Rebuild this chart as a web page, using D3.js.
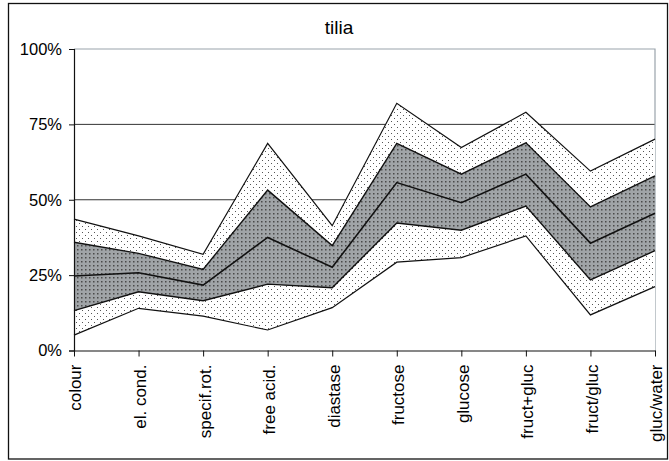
<!DOCTYPE html>
<html><head><meta charset="utf-8">
<script src="https://cdn.jsdelivr.net/npm/d3@7"></script>
<style>body{margin:0;background:#fff}svg{display:block}text{font-family:"Liberation Sans",Arial,sans-serif;fill:#000}</style>
</head><body><svg id="c" width="669" height="461"></svg>
<script>
const title = "tilia";
const categories = ["colour","el. cond.","specif.rot.","free acid.","diastase","fructose","glucose","fruct+gluc","fruct/gluc","gluc/water"];
const minVals    = [5.1, 14.0, 11.4,  6.8, 14.2, 29.3, 30.8, 38.0, 11.8, 21.2];
const lowerVals  = [13.2, 19.5, 16.5, 22.0, 20.8, 42.3, 39.9, 47.9, 23.4, 33.1];
const medianVals = [24.7, 25.8, 21.7, 37.5, 27.6, 55.7, 49.0, 58.5, 35.6, 45.5];
const upperVals  = [35.9, 32.2, 26.9, 53.2, 34.8, 68.7, 58.5, 68.9, 47.6, 57.9];
const maxVals    = [43.6, 38.0, 31.9, 68.7, 41.4, 82.0, 67.3, 79.0, 59.5, 70.1];
const yTicks = [0, 25, 50, 75, 100];

const svg = d3.select("#c");
const L = 74, R = 655, T = 49, B = 350.5;
const x = d3.scalePoint().domain(categories).range([L, R]);
const y = d3.scaleLinear().domain([0, 100]).range([B, T]);

const defs = svg.append("defs");
const pl = defs.append("pattern").attr("id","light").attr("patternUnits","userSpaceOnUse").attr("width",6).attr("height",6);
pl.append("rect").attr("width",6).attr("height",6).attr("fill","#fff");
pl.append("rect").attr("x",1).attr("y",1).attr("width",1).attr("height",1).attr("fill","#555");
pl.append("rect").attr("x",4).attr("y",4).attr("width",1).attr("height",1).attr("fill","#555");
const pd = defs.append("pattern").attr("id","dark").attr("patternUnits","userSpaceOnUse").attr("width",4).attr("height",4);
pd.append("rect").attr("width",4).attr("height",4).attr("fill","#a0a4a7");
pd.append("rect").attr("x",1).attr("y",1).attr("width",1.5).attr("height",1.5).attr("fill","#4a4a4a");

// outer frame
svg.append("rect").attr("x",8.5).attr("y",3.5).attr("width",659).attr("height",455.5)
  .attr("fill","none").attr("stroke","#111").attr("stroke-width",1.3);

// title
svg.append("text").attr("x",339).attr("y",34).attr("text-anchor","middle").attr("font-size",19).text(title);

// gridlines
svg.append("g").selectAll("line").data(yTicks.filter(v => v > 0 && v < 100)).join("line")
  .attr("x1",L).attr("x2",R).attr("y1",d=>y(d)).attr("y2",d=>y(d))
  .attr("stroke","#333").attr("stroke-width",1);
// plot border (top, right)
svg.append("path").attr("d",`M${L},${y(100)}H${R}V${B}`).attr("fill","none").attr("stroke","#9aa3ab").attr("stroke-width",1.2);

const idx = d3.range(categories.length);
const zeros = categories.map(() => 0);
const band = (lo, hi, fill) => {
  const a = d3.area().x(i => x(categories[i])).y0(i => y(lo[i])).y1(i => y(hi[i]));
  svg.append("path").datum(idx).attr("d", a).attr("fill", fill).attr("stroke","none");
};
band(zeros, minVals, "#fff");
band(minVals, lowerVals, "url(#light)");
band(lowerVals, upperVals, "url(#dark)");
band(upperVals, maxVals, "url(#light)");

const line = vals => d3.line().x(i => x(categories[i])).y(i => y(vals[i]));
[[minVals,1.2],[lowerVals,1.4],[medianVals,1.6],[upperVals,1.4],[maxVals,1.2]].forEach(([v,w]) => {
  svg.append("path").datum(idx).attr("d", line(v)).attr("fill","none").attr("stroke","#111")
    .attr("stroke-width", w).attr("stroke-linejoin","miter");
});

// y axis
const ya = svg.append("g").attr("transform",`translate(${L},0)`)
  .call(d3.axisLeft(y).tickValues(yTicks).tickFormat(d => d + "%").tickSize(5).tickPadding(7));
ya.select(".domain").attr("stroke","#111").attr("stroke-width",1.2);
ya.selectAll(".tick line").attr("stroke","#111");
ya.selectAll("text").attr("font-size",16.5).attr("font-family",'"Liberation Sans",Arial,sans-serif').attr("fill","#000");

// x axis
const xa = svg.append("g").attr("transform",`translate(0,${B})`)
  .call(d3.axisBottom(x).tickSize(6).tickSizeOuter(0));
xa.select(".domain").attr("stroke","#111").attr("stroke-width",1.2);
xa.selectAll(".tick line").attr("stroke","#111");
xa.selectAll("text").attr("font-size",17).attr("font-family",'"Liberation Sans",Arial,sans-serif').attr("fill","#000")
  .attr("transform","rotate(-90)").attr("text-anchor","end").attr("x",-14).attr("y",1).attr("dy","0.35em");
</script></body></html>
